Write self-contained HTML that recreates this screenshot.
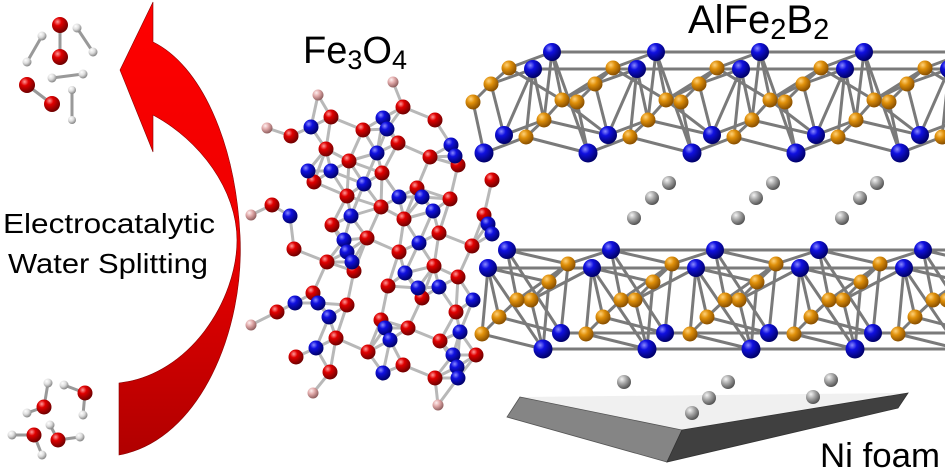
<!DOCTYPE html>
<html><head><meta charset="utf-8"><style>
html,body{margin:0;padding:0;background:#fff;width:945px;height:472px;overflow:hidden}
svg{display:block}
text{font-family:"Liberation Sans",Arial,sans-serif;fill:#000}
</style></head><body>
<svg width="945" height="472" viewBox="0 0 945 472" xmlns="http://www.w3.org/2000/svg">
<defs>
<radialGradient id="gb" cx="35%" cy="30%" r="70%"><stop offset="0" stop-color="#8a8aff"/><stop offset="0.35" stop-color="#1010e0"/><stop offset="1" stop-color="#00006a"/></radialGradient>
<radialGradient id="gr" cx="35%" cy="30%" r="70%"><stop offset="0" stop-color="#ff9a9a"/><stop offset="0.35" stop-color="#e00000"/><stop offset="1" stop-color="#700000"/></radialGradient>
<radialGradient id="go" cx="35%" cy="30%" r="70%"><stop offset="0" stop-color="#ffd27a"/><stop offset="0.4" stop-color="#e0900a"/><stop offset="1" stop-color="#8a5000"/></radialGradient>
<radialGradient id="gg" cx="35%" cy="30%" r="70%"><stop offset="0" stop-color="#f4f4f4"/><stop offset="0.45" stop-color="#a8a8a8"/><stop offset="1" stop-color="#555"/></radialGradient>
<radialGradient id="gp" cx="35%" cy="30%" r="70%"><stop offset="0" stop-color="#fff0f0"/><stop offset="0.45" stop-color="#e0a8a8"/><stop offset="1" stop-color="#906060"/></radialGradient>
<radialGradient id="gw" cx="35%" cy="30%" r="70%"><stop offset="0" stop-color="#fff"/><stop offset="0.5" stop-color="#ddd"/><stop offset="1" stop-color="#888"/></radialGradient>
<linearGradient id="arr" x1="0" y1="0" x2="0" y2="1"><stop offset="0" stop-color="#ff0000"/><stop offset="0.5" stop-color="#ee0000"/><stop offset="1" stop-color="#b00000"/></linearGradient>

<g id="u1">
 <g stroke="#7a7a7a" stroke-width="3" stroke-linecap="round">
  <line x1="552" y1="52" x2="656" y2="52"/><line x1="533" y1="69" x2="637" y2="69"/>
  <line x1="552" y1="52" x2="562" y2="100"/><line x1="552" y1="52" x2="544" y2="120"/>
  <line x1="533" y1="69" x2="544" y2="120"/><line x1="533" y1="69" x2="526" y2="137"/>
  <line x1="552" y1="52" x2="509" y2="68"/><line x1="533" y1="69" x2="491" y2="84"/>
  <line x1="509" y1="68" x2="491" y2="84"/><line x1="491" y1="84" x2="473" y2="102"/>
  <line x1="473" y1="102" x2="484" y2="153"/><line x1="491" y1="84" x2="504" y2="135"/>
  <line x1="533" y1="69" x2="504" y2="135"/><line x1="552" y1="52" x2="588" y2="153"/>
  <line x1="562" y1="100" x2="544" y2="120"/><line x1="544" y1="120" x2="526" y2="137"/>
  <line x1="526" y1="137" x2="484" y2="153"/><line x1="526" y1="137" x2="588" y2="153"/>
  <line x1="544" y1="120" x2="504" y2="135"/><line x1="544" y1="120" x2="608" y2="135"/>
  <line x1="562" y1="100" x2="608" y2="135"/><line x1="562" y1="100" x2="595" y2="84"/>
  <line x1="562" y1="100" x2="613" y2="68"/><line x1="509" y1="68" x2="562" y2="100"/>
 </g>
 <circle cx="509" cy="68" r="7.5" fill="url(#go)"/><circle cx="491" cy="84" r="7.5" fill="url(#go)"/><circle cx="473" cy="102" r="7.5" fill="url(#go)"/>
 <circle cx="562" cy="100" r="7.5" fill="url(#go)"/><circle cx="544" cy="120" r="7.5" fill="url(#go)"/><circle cx="526" cy="137" r="7.5" fill="url(#go)"/>
 <circle cx="552" cy="52" r="9" fill="url(#gb)"/><circle cx="533" cy="69" r="9" fill="url(#gb)"/>
 <circle cx="504" cy="135" r="9" fill="url(#gb)"/><circle cx="484" cy="153" r="9.5" fill="url(#gb)"/>
</g>

<g id="u2">
 <g stroke="#7a7a7a" stroke-width="3" stroke-linecap="round">
  <line x1="507" y1="250" x2="611" y2="250"/><line x1="488" y1="268" x2="592" y2="268"/>
  <line x1="561" y1="333" x2="665" y2="333"/><line x1="543" y1="349" x2="647" y2="349"/>
  <line x1="507" y1="250" x2="568" y2="264"/><line x1="488" y1="268" x2="549" y2="282"/>
  <line x1="568" y1="264" x2="549" y2="282"/><line x1="549" y1="282" x2="531" y2="300"/>
  <line x1="517" y1="300" x2="499" y2="317"/><line x1="499" y1="317" x2="482" y2="334"/>
  <line x1="507" y1="250" x2="517" y2="300"/><line x1="488" y1="268" x2="499" y2="317"/>
  <line x1="488" y1="268" x2="482" y2="334"/><line x1="488" y1="268" x2="543" y2="349"/>
  <line x1="507" y1="250" x2="561" y2="333"/><line x1="531" y1="300" x2="543" y2="349"/>
  <line x1="482" y1="334" x2="543" y2="349"/><line x1="499" y1="317" x2="561" y2="333"/>
  <line x1="568" y1="264" x2="561" y2="333"/><line x1="549" y1="282" x2="543" y2="349"/>
  <line x1="531" y1="300" x2="592" y2="268"/><line x1="568" y1="264" x2="611" y2="250"/>
  <line x1="517" y1="300" x2="568" y2="264"/>
 </g>
 <circle cx="568" cy="264" r="7.5" fill="url(#go)"/><circle cx="549" cy="282" r="7.5" fill="url(#go)"/><circle cx="531" cy="300" r="7.5" fill="url(#go)"/>
 <circle cx="517" cy="300" r="7.5" fill="url(#go)"/><circle cx="499" cy="317" r="7.5" fill="url(#go)"/><circle cx="482" cy="334" r="7.5" fill="url(#go)"/>
 <circle cx="507" cy="250" r="9" fill="url(#gb)"/><circle cx="488" cy="268" r="9" fill="url(#gb)"/>
 <circle cx="561" cy="333" r="9" fill="url(#gb)"/><circle cx="543" cy="349" r="9.5" fill="url(#gb)"/>
</g>
<g id="g3"><circle cx="634" cy="218" r="7" fill="url(#gg)"/><circle cx="652" cy="198" r="7" fill="url(#gg)"/><circle cx="669" cy="183" r="7" fill="url(#gg)"/></g>
</defs>

<!-- red arrow -->
<path d="M119,455 C200,440 245,330 240,235 C235,140 200,65 153,42 L153,2 L120,70 L153,152 L153,115 C200,140 237,190 237,240 C237,300 190,375 119,383 Z" fill="url(#arr)" stroke="#800" stroke-width="0.6"/>

<!-- water molecules -->
<g stroke="#999" stroke-width="3" stroke-linecap="round">
<line x1="60" y1="25" x2="60" y2="57"/><line x1="42" y1="36" x2="27" y2="62"/><line x1="77" y1="28" x2="93" y2="52"/>
<line x1="52" y1="78" x2="83" y2="74"/><line x1="27" y1="85" x2="52" y2="104"/><line x1="72" y1="90" x2="72" y2="120"/>
<line x1="44" y1="407" x2="48" y2="383"/><line x1="44" y1="407" x2="27" y2="413"/><line x1="85" y1="393" x2="64" y2="385"/>
<line x1="85" y1="393" x2="83" y2="415"/><line x1="34" y1="435" x2="12" y2="435"/><line x1="34" y1="435" x2="42" y2="455"/>
<line x1="58" y1="440" x2="50" y2="425"/><line x1="58" y1="440" x2="80" y2="437"/>
</g>
<g fill="url(#gw)">
<circle cx="42" cy="36" r="4.5"/><circle cx="27" cy="62" r="4.5"/><circle cx="77" cy="28" r="4.5"/><circle cx="93" cy="52" r="4.5"/>
<circle cx="52" cy="78" r="4.5"/><circle cx="83" cy="74" r="4.5"/><circle cx="72" cy="90" r="4"/><circle cx="72" cy="120" r="4"/>
<circle cx="48" cy="383" r="4.5"/><circle cx="64" cy="385" r="4.5"/><circle cx="27" cy="413" r="4.5"/><circle cx="83" cy="415" r="4.5"/>
<circle cx="12" cy="435" r="4.5"/><circle cx="42" cy="455" r="4.5"/><circle cx="50" cy="425" r="4.5"/><circle cx="80" cy="437" r="4.5"/>
</g>
<g fill="url(#gr)">
<circle cx="60" cy="25" r="8"/><circle cx="60" cy="57" r="8"/><circle cx="27" cy="85" r="8"/><circle cx="52" cy="104" r="8"/>
<circle cx="44" cy="407" r="7.5"/><circle cx="85" cy="393" r="7.5"/><circle cx="34" cy="435" r="7.5"/><circle cx="58" cy="440" r="7.5"/>
</g>

<!-- text -->
<text x="3" y="233" font-size="28" textLength="212" lengthAdjust="spacingAndGlyphs">Electrocatalytic</text>
<text x="8" y="273" font-size="28" textLength="200" lengthAdjust="spacingAndGlyphs">Water Splitting</text>
<text x="303" y="63" font-size="38">Fe<tspan font-size="27" dy="6">3</tspan><tspan dy="-6">O</tspan><tspan font-size="27" dy="6">4</tspan></text>
<text x="688" y="33" font-size="40">AlFe<tspan font-size="29" dy="6">2</tspan><tspan dy="-6">B</tspan><tspan font-size="29" dy="6">2</tspan></text>
<text x="820" y="467" font-size="34" textLength="120" lengthAdjust="spacingAndGlyphs">Ni foam</text>

<!-- Ni foam slab -->
<path d="M520,397 L682,430 L908,393 Z" fill="#f0f0f0"/>
<path d="M520,397 L682,430 L667,462 L507,417 Z" fill="#858585" stroke="#555" stroke-width="0.8"/>
<path d="M682,430 L908,393 L898,408 L667,462 Z" fill="#404040" stroke="#333" stroke-width="0.8"/>

<!-- AlFe2B2 layers -->
<use href="#u1"/><use href="#u1" x="104"/><use href="#u1" x="208"/><use href="#u1" x="312"/><use href="#u1" x="416"/>
<use href="#u2"/><use href="#u2" x="104"/><use href="#u2" x="208"/><use href="#u2" x="312"/><use href="#u2" x="416"/>
<use href="#g3"/><use href="#g3" x="104"/><use href="#g3" x="208"/>
<circle cx="624" cy="382" r="7" fill="url(#gg)"/><circle cx="692" cy="413" r="7" fill="url(#gg)"/>
<circle cx="709" cy="398" r="7" fill="url(#gg)"/><circle cx="728" cy="382" r="7" fill="url(#gg)"/>
<circle cx="813" cy="397" r="7" fill="url(#gg)"/><circle cx="831" cy="380" r="7" fill="url(#gg)"/>

<!-- Fe3O4 cluster -->
<g id="febonds" stroke="#b8b8b8" stroke-width="3" stroke-linecap="round"></g>
<g id="fe">
<g fill="url(#gp)">
<circle cx="318" cy="95" r="5.5"/><circle cx="393" cy="82" r="5.5"/><circle cx="267" cy="128" r="5.5"/><circle cx="251" cy="215" r="5.5"/>
<circle cx="251" cy="325" r="5.5"/><circle cx="313" cy="393" r="5.5"/><circle cx="438" cy="405" r="5.5"/>
</g>
<g fill="url(#gr)">
<circle cx="331" cy="117" r="7.5"/><circle cx="291" cy="136" r="7.5"/><circle cx="363" cy="130" r="7.5"/><circle cx="403" cy="107" r="7.5"/>
<circle cx="435" cy="120" r="7.5"/><circle cx="326" cy="149" r="7.5"/><circle cx="349" cy="161" r="7.5"/><circle cx="398" cy="143" r="7.5"/>
<circle cx="430" cy="157" r="7.5"/><circle cx="382" cy="173" r="7.5"/><circle cx="314" cy="182" r="7.5"/><circle cx="347" cy="196" r="7.5"/>
<circle cx="417" cy="188" r="7.5"/><circle cx="450" cy="199" r="7.5"/><circle cx="381" cy="207" r="7.5"/><circle cx="272" cy="205" r="7.5"/>
<circle cx="332" cy="225" r="7.5"/><circle cx="404" cy="219" r="7.5"/><circle cx="484" cy="215" r="7.5"/><circle cx="492" cy="180" r="7.5"/>
<circle cx="458" cy="165" r="7.5"/><circle cx="367" cy="238" r="7.5"/><circle cx="439" cy="233" r="7.5"/><circle cx="294" cy="249" r="7.5"/>
<circle cx="399" cy="252" r="7.5"/><circle cx="472" cy="246" r="7.5"/><circle cx="327" cy="262" r="7.5"/><circle cx="354" cy="271" r="7.5"/>
<circle cx="434" cy="266" r="7.5"/><circle cx="388" cy="286" r="7.5"/><circle cx="458" cy="277" r="7.5"/><circle cx="313" cy="293" r="7.5"/>
<circle cx="422" cy="298" r="7.5"/><circle cx="277" cy="312" r="7.5"/><circle cx="347" cy="305" r="7.5"/><circle cx="456" cy="312" r="7.5"/>
<circle cx="381" cy="320" r="7.5"/><circle cx="336" cy="338" r="7.5"/><circle cx="408" cy="328" r="7.5"/><circle cx="440" cy="341" r="7.5"/>
<circle cx="368" cy="352" r="7.5"/><circle cx="296" cy="357" r="7.5"/><circle cx="476" cy="355" r="7.5"/><circle cx="330" cy="372" r="7.5"/>
<circle cx="403" cy="365" r="7.5"/><circle cx="435" cy="378" r="7.5"/>
</g>
<g fill="url(#gb)">
<circle cx="311" cy="127" r="7.5"/><circle cx="383" cy="118" r="7.5"/><circle cx="387" cy="129" r="7.5"/><circle cx="451" cy="145" r="7.5"/>
<circle cx="377" cy="153" r="7.5"/><circle cx="455" cy="156" r="7.5"/><circle cx="308" cy="171" r="7.5"/><circle cx="331" cy="171" r="7.5"/>
<circle cx="364" cy="184" r="7.5"/><circle cx="399" cy="197" r="7.5"/><circle cx="422" cy="197" r="7.5"/><circle cx="433" cy="211" r="7.5"/>
<circle cx="290" cy="216" r="7.5"/><circle cx="351" cy="216" r="7.5"/><circle cx="344" cy="240" r="7.5"/><circle cx="419" cy="243" r="7.5"/>
<circle cx="347" cy="252" r="7.5"/><circle cx="352" cy="262" r="7.5"/><circle cx="405" cy="273" r="7.5"/><circle cx="418" cy="288" r="7.5"/>
<circle cx="439" cy="287" r="7.5"/><circle cx="295" cy="303" r="7.5"/><circle cx="318" cy="303" r="7.5"/><circle cx="329" cy="317" r="7.5"/>
<circle cx="473" cy="300" r="7.5"/><circle cx="385" cy="328" r="7.5"/><circle cx="460" cy="332" r="7.5"/><circle cx="390" cy="340" r="7.5"/>
<circle cx="316" cy="348" r="7.5"/><circle cx="453" cy="355" r="7.5"/><circle cx="457" cy="367" r="7.5"/><circle cx="458" cy="378" r="7.5"/>
<circle cx="383" cy="373" r="7.5"/><circle cx="488" cy="224" r="7.5"/><circle cx="492" cy="234" r="7.5"/>
</g>
</g>
</svg>
<script>
(function(){
 var cs=document.querySelectorAll('#fe circle'),p=[];
 for(var i=0;i<cs.length;i++)p.push([+cs[i].getAttribute('cx'),+cs[i].getAttribute('cy')]);
 var g=document.getElementById('febonds'),ns='http://www.w3.org/2000/svg';
 for(var i=0;i<p.length;i++)for(var j=i+1;j<p.length;j++){
  var dx=p[i][0]-p[j][0],dy=p[i][1]-p[j][1],d=Math.sqrt(dx*dx+dy*dy);
  if(d>14&&d<36){var l=document.createElementNS(ns,'line');
   l.setAttribute('x1',p[i][0]);l.setAttribute('y1',p[i][1]);l.setAttribute('x2',p[j][0]);l.setAttribute('y2',p[j][1]);g.appendChild(l);}
 }
})();
</script>
</body></html>
